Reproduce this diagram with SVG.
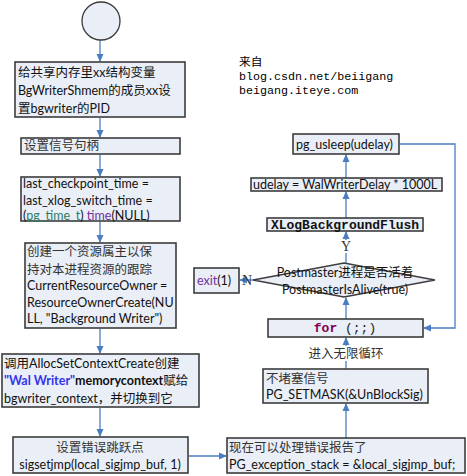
<svg xmlns="http://www.w3.org/2000/svg" width="467" height="476" viewBox="0 0 467 476">
<defs>
<style>
.box{fill:#E9EEF7;stroke:#3C3C3C;stroke-width:1.6}
.t{font-family:Lato,"Noto Sans CJK SC",sans-serif;font-size:12.5px;fill:#111}
.c{font-family:"Noto Sans CJK SC",sans-serif;font-size:12.5px;fill:#333}
.m{font-family:"Liberation Mono","Noto Sans CJK SC",monospace;font-size:11.7px;fill:#000}
.cb{font-family:"Liberation Mono",monospace;font-weight:bold;font-size:13px}
.ln{fill:none;stroke:#4A7EC0;stroke-width:1.3}
</style>
<marker id="ah" markerWidth="8" markerHeight="8" refX="7" refY="4" orient="auto" markerUnits="userSpaceOnUse">
<path d="M0,0.5 L8,4 L0,7.5 Z" fill="#4A7EC0"/>
</marker>
</defs>
<rect width="467" height="476" fill="#fff"/>

<g id="edges">
<line class="ln" x1="100" y1="40" x2="100" y2="61" marker-end="url(#ah)"/>
<line class="ln" x1="100" y1="118" x2="100" y2="137" marker-end="url(#ah)"/>
<line class="ln" x1="100" y1="155" x2="100" y2="176" marker-end="url(#ah)"/>
<line class="ln" x1="100" y1="222" x2="100" y2="242" marker-end="url(#ah)"/>
<line class="ln" x1="100" y1="329" x2="100" y2="353" marker-end="url(#ah)"/>
<line class="ln" x1="100" y1="408" x2="100" y2="436" marker-end="url(#ah)"/>
<line class="ln" x1="189" y1="456" x2="226" y2="456" marker-end="url(#ah)"/>
<line class="ln" x1="346" y1="438" x2="346" y2="404" marker-end="url(#ah)"/>
<line class="ln" x1="346" y1="369" x2="346" y2="361"/>
<line class="ln" x1="346" y1="346" x2="346" y2="338" marker-end="url(#ah)"/>
<line class="ln" x1="346" y1="319" x2="346" y2="298" marker-end="url(#ah)"/>
<line class="ln" x1="346" y1="263" x2="346" y2="253"/>
<line class="ln" x1="346" y1="240" x2="346" y2="232" marker-end="url(#ah)"/>
<line class="ln" x1="346" y1="218" x2="346" y2="192" marker-end="url(#ah)"/>
<line class="ln" x1="346" y1="178" x2="346" y2="155" marker-end="url(#ah)"/>
<polyline class="ln" points="400,144 455,144 455,328 424,328" marker-end="url(#ah)"/>
<line class="ln" x1="253" y1="280" x2="240" y2="280" marker-end="url(#ah)"/>
<text x="346" y="358" class="c" text-anchor="middle">进入无限循环</text>
<text x="346" y="251" font-family="Liberation Serif,serif" font-size="14" text-anchor="middle" fill="#333">Y</text>
<text x="242" y="285" font-family="Liberation Serif,serif" font-size="14" fill="#333">N</text>
</g>

<g id="start"><circle cx="101" cy="21" r="19" fill="#E9EEF7" stroke="#3C3C3C" stroke-width="1.3"/></g>

<g id="n1"><rect class="box" x="15" y="62" width="170" height="55"/>
<text class="t" x="18" y="77">给共享内存里xx结构变量</text>
<text class="t" x="18" y="95">BgWriterShmem的成员xx设</text>
<text class="t" x="18" y="113">置bgwriter的PID</text></g>

<g id="n2"><rect class="box" x="21" y="138" width="159" height="16"/>
<text class="c" x="24" y="150">设置信号句柄</text></g>

<g id="n3"><rect class="box" x="21" y="177" width="159" height="44"/>
<text class="t" x="23" y="188">last_checkpoint_time =</text>
<text class="t" x="23" y="205">last_xlog_switch_time =</text>
<text class="t" x="23" y="220">(<tspan fill="#2E7D60">pg_time_t</tspan>) <tspan fill="#7030A0">time</tspan>(NULL)</text></g>

<g id="n4"><rect class="box" x="25" y="243" width="151" height="85"/>
<text class="c" x="27" y="256" font-size="12">创建一个资源属主以保</text>
<text class="c" x="27" y="274" font-size="12">持对本进程资源的跟踪</text>
<text class="t" x="27" y="290">CurrentResourceOwner =</text>
<text class="t" x="27" y="307">ResourceOwnerCreate(NU</text>
<text class="t" x="27" y="323">LL, "Background Writer")</text></g>

<g id="n5"><rect class="box" x="2" y="354" width="197" height="53"/>
<text class="t" x="4" y="368">调用AllocSetContextCreate创建</text>
<text class="t" x="4" y="385"><tspan fill="#3333EE" font-weight="bold">"Wal Writer"</tspan><tspan font-weight="bold">memorycontext</tspan>赋给</text>
<text class="t" x="4" y="403">bgwriter_context，并切换到它</text></g>

<g id="n6"><rect class="box" x="13" y="437" width="175" height="36"/>
<text class="c" x="100" y="452" text-anchor="middle">设置错误跳跃点</text>
<text class="t" x="100" y="469" text-anchor="middle">sigsetjmp(local_sigjmp_buf, 1)</text></g>

<g id="n7"><rect class="box" x="227" y="438" width="238" height="35"/>
<text class="c" x="229" y="452">现在可以处理错误报告了</text>
<text class="t" x="229" y="469">PG_exception_stack = &amp;local_sigjmp_buf;</text></g>

<g id="n8"><rect class="box" x="263" y="369" width="165" height="34"/>
<text class="c" x="266" y="383">不堵塞信号</text>
<text class="t" x="266" y="399">PG_SETMASK(&amp;UnBlockSig)</text></g>

<g id="n9"><rect class="box" x="268" y="319" width="155" height="18"/>
<text x="345" y="332" text-anchor="middle"><tspan class="cb" fill="#7F0055">for</tspan><tspan font-family="Liberation Mono,monospace" font-size="13" fill="#222"> (;;)</tspan></text></g>

<g id="n10"><polygon points="253,280 344,263 435,280 344,297" fill="#E9EEF7" stroke="#3C3C3C" stroke-width="1.3"/>
<text class="t" x="345" y="277" text-anchor="middle" fill="#333">Postmaster进程是否活着</text>
<text class="t" x="345" y="294" text-anchor="middle" fill="#333">PostmasterIsAlive(true)</text></g>

<g id="n11"><rect class="box" x="194" y="268" width="45" height="25"/>
<text class="t" x="197" y="285"><tspan fill="#7030A0">exit</tspan>(1)</text></g>

<g id="n12"><rect class="box" x="267" y="218" width="156" height="13"/>
<text class="cb" x="345" y="229" text-anchor="middle" fill="#111">XLogBackgroundFlush</text></g>

<g id="n13"><rect class="box" x="251" y="178" width="191" height="13"/>
<text class="t" x="253" y="189">udelay = WalWriterDelay * 1000L</text></g>

<g id="n14"><rect class="box" x="293" y="134" width="106" height="20"/>
<text class="t" x="296" y="149">pg_usleep(udelay)</text></g>

<g id="note">
<text class="m" x="239" y="66">来自</text>
<text class="m" x="239" y="80">blog.csdn.net/beiigang</text>
<text class="m" x="239" y="94">beigang.iteye.com</text>
</g>
</svg>
